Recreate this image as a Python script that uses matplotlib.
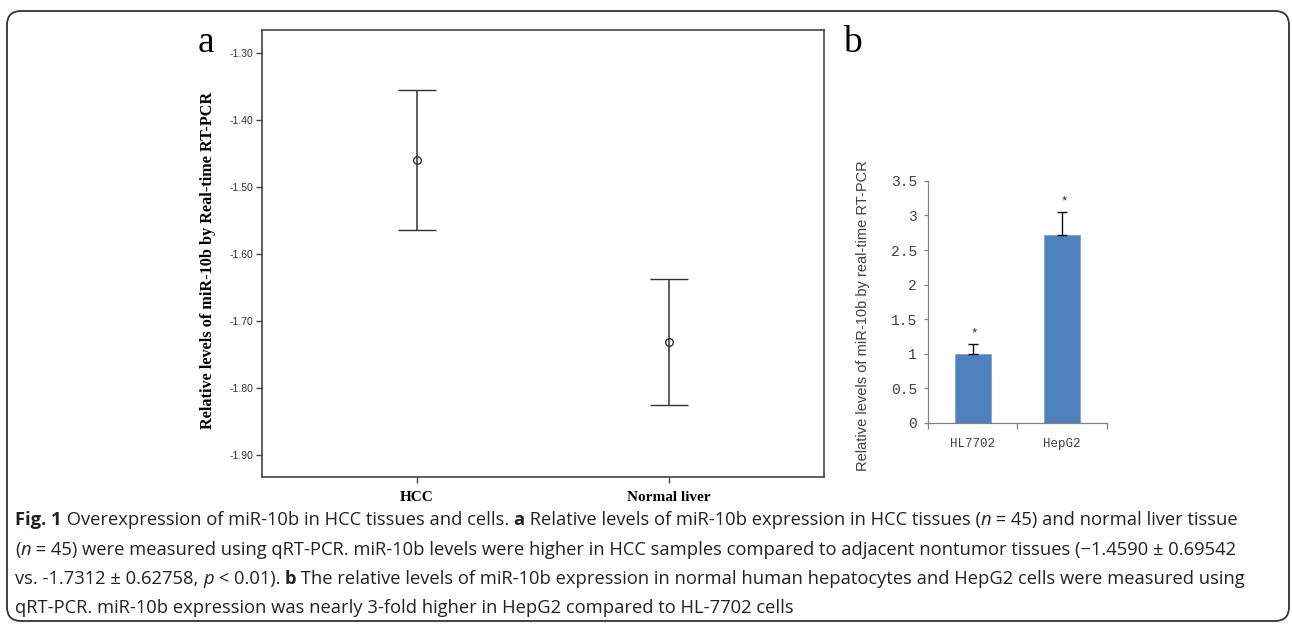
import matplotlib
matplotlib.use('Agg')
import matplotlib.pyplot as plt
from matplotlib.patches import FancyBboxPatch
from matplotlib.transforms import IdentityTransform
import numpy as np

# ---------------- data ----------------
groups_a = ['HCC', 'Normal liver']
means_a = [-1.459, -1.731]
ci_a = [0.104, 0.094]
yticks_a = [-1.30, -1.40, -1.50, -1.60, -1.70, -1.80, -1.90]
ylabel_a = 'Relative levels of miR-10b by Real-time RT-PCR'

cells_b = ['HL7702', 'HepG2']
values_b = [1.0, 2.72]
err_b = [0.14, 0.33]
stars_b = ['*', '*']
yticks_b = [0, 0.5, 1, 1.5, 2, 2.5, 3, 3.5]
yticklabels_b = ['0', '0.5', '1', '1.5', '2', '2.5', '3', '3.5']
ylabel_b = 'Relative levels of miR-10b by real-time RT-PCR'

caption_lines = [
    [("Fig. 1", 'b'), (" Overexpression of miR-10b in HCC tissues and cells. ", 'r'), ("a", 'b'),
     (" Relative levels of miR-10b expression in HCC tissues (", 'r'), ("n", 'i'),
     (" = 45) and normal liver tissue", 'r')],
    [("(", 'r'), ("n", 'i'),
     (" = 45) were measured using qRT-PCR. miR-10b levels were higher in HCC samples compared to adjacent nontumor tissues (\u22121.4590 \u00b1 0.69542", 'r')],
    [("vs. -1.7312 \u00b1 0.62758, ", 'r'), ("p", 'i'), (" < 0.01). ", 'r'), ("b", 'b'),
     (" The relative levels of miR-10b expression in normal human hepatocytes and HepG2 cells were measured using", 'r')],
    [("qRT-PCR. miR-10b expression was nearly 3-fold higher in HepG2 compared to HL-7702 cells", 'r')],
]

# ---------------- figure ----------------
W, H = 1292, 626
fig = plt.figure(figsize=(W / 100, H / 100), dpi=100)
fig.patch.set_facecolor('white')


def fx(px):
    return px / W


def fy(py):
    return 1 - py / H


# outer rounded frame
frame = FancyBboxPatch((7, 5), 1282, 610, boxstyle='round,pad=0,rounding_size=14',
                       transform=IdentityTransform(), fill=False, edgecolor='#333333',
                       linewidth=1.3)
fig.patches.append(frame)

serif = ['Liberation Serif', 'DejaVu Serif']
sans = ['Liberation Sans', 'DejaVu Sans']
mono = ['Liberation Mono', 'DejaVu Sans Mono']

# ---------------- panel a ----------------
axa = fig.add_axes([fx(262), fy(476.7), fx(824) - fx(262), fy(30) - fy(476.7)])
xa = np.arange(1, len(groups_a) + 1)
axa.errorbar(xa, means_a, yerr=ci_a, fmt='o', mfc='none', mec='#333333', ms=5.5, mew=1.0,
             ecolor='#333333', elinewidth=1.1, capsize=14, capthick=1.2)
axa.set_xlim(0.3876, 2.6124)
axa.set_ylim(-1.932, -1.265)
axa.set_yticks(yticks_a)
axa.set_yticklabels(['%.2f' % v for v in yticks_a], family=sans, fontsize=7.5, color='#333333')
axa.set_xticks(xa)
axa.set_xticklabels(groups_a, family=serif, fontweight='bold', fontsize=11, color='black')
axa.tick_params(axis='both', direction='out', length=4, width=1.0, color='#444444')
axa.tick_params(axis='y', pad=2)
axa.tick_params(axis='x', pad=6)
for s in axa.spines.values():
    s.set_color('#444444')
    s.set_linewidth(1.2)

fig.text(fx(208.5), fy(260), ylabel_a, rotation=90, ha='center', va='center',
         family=serif, fontweight='bold', fontsize=11.7, color='black')
fig.text(fx(198), fy(52), 'a', family=serif, fontsize=27, va='baseline', ha='left')
fig.text(fx(843), fy(52), 'b', family=serif, fontsize=27, va='baseline', ha='left')

# ---------------- panel b ----------------
axb = fig.add_axes([fx(928), fy(423), fx(1106.7) - fx(928), fy(180.8) - fy(423)])
xb = np.arange(1, len(cells_b) + 1)
axb.bar(xb, values_b, width=0.4, color='#4F81BD', edgecolor='#7FA3D1', linewidth=0.6, zorder=2)
axb.errorbar(xb, values_b, yerr=[np.zeros(len(err_b)), err_b], fmt='none', ecolor='#111111',
             elinewidth=1.0, capsize=3.3, capthick=1.0, zorder=3)
for i in range(len(xb)):
    axb.annotate(stars_b[i], (xb[i], values_b[i] + err_b[i]), xytext=(2, 11),
                 textcoords='offset pixels', ha='center', va='center', fontsize=9,
                 family=mono, color='#222222')
axb.set_xlim(0.5, 2.5)
axb.set_ylim(0, 3.5)
axb.set_yticks(yticks_b)
axb.set_yticklabels(yticklabels_b, family=mono, fontsize=10.5, color='#404040')
axb.set_xticks(xb)
axb.set_xticklabels(cells_b, family=mono, fontsize=9, color='#404040')
axb.set_xticks([0.5, 1.5, 2.5], minor=True)
axb.tick_params(axis='x', which='major', length=0, pad=11)
axb.tick_params(axis='x', which='minor', length=4, direction='out', color='#808080', width=0.9)
axb.tick_params(axis='y', length=3, direction='out', color='#808080', width=0.9, pad=5)
for side in ['top', 'right']:
    axb.spines[side].set_visible(False)
for side in ['left', 'bottom']:
    axb.spines[side].set_color('#808080')
    axb.spines[side].set_linewidth(0.9)

fig.text(fx(862.7), fy(316), ylabel_b, rotation=90, ha='center', va='center',
         family=sans, fontsize=10.5, color='#404040')

# ---------------- caption ----------------
cap_font = ['Open Sans', 'DejaVu Sans']
cap_size = 13.2
style_map = {'r': dict(fontweight='normal', fontstyle='normal'),
             'b': dict(fontweight='bold', fontstyle='normal'),
             'i': dict(fontweight='normal', fontstyle='italic')}

renderer = fig.canvas.get_renderer()


def text_width(s, st):
    t1 = fig.text(0, 0, '|' + s + '|', family=cap_font, fontsize=cap_size, **style_map[st])
    t2 = fig.text(0, 0, '||', family=cap_font, fontsize=cap_size, **style_map[st])
    w = t1.get_window_extent(renderer).width - t2.get_window_extent(renderer).width
    t1.remove()
    t2.remove()
    return w


baselines = [525, 555, 584, 613]
x0 = 15
for line, yb in zip(caption_lines, baselines):
    x = x0
    for s, st in line:
        fig.text(fx(x), fy(yb), s, family=cap_font, fontsize=cap_size, va='baseline',
                 ha='left', color='#222222', **style_map[st])
        x += text_width(s, st)

fig.savefig('out.png', dpi=100, facecolor='white')
